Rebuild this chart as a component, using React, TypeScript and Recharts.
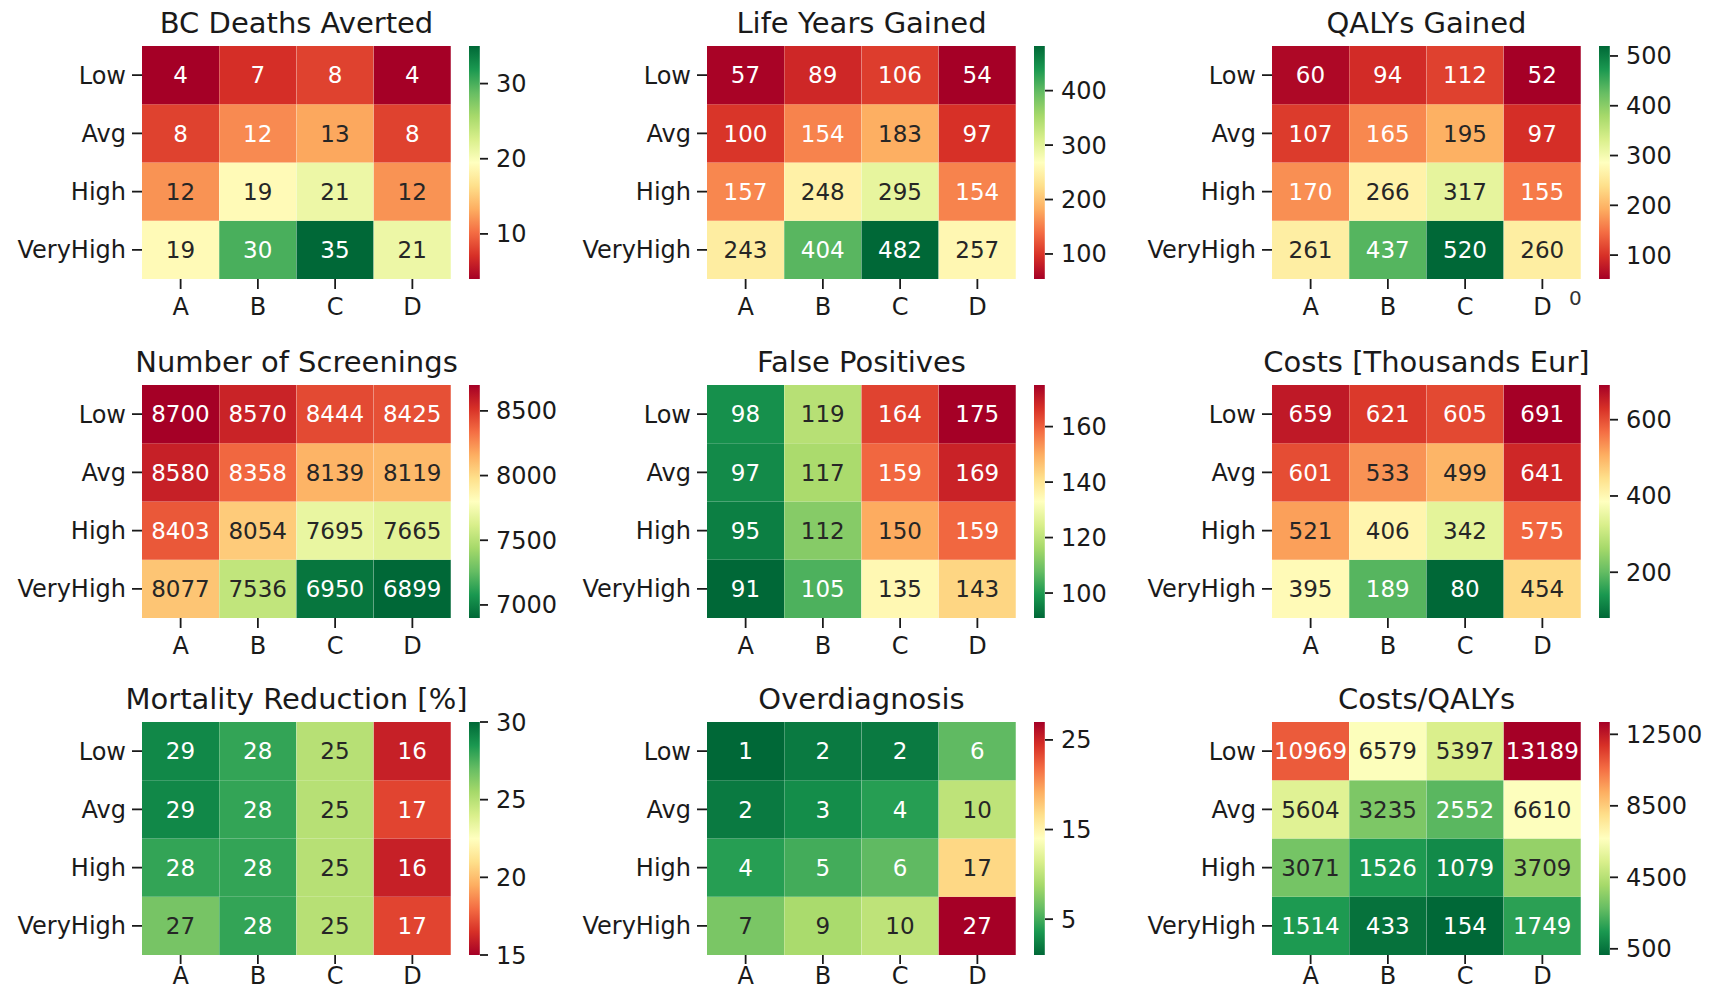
import React from "react";
import { BarChart, Bar, XAxis, YAxis, Cell, LabelList } from "recharts";

const ROWS = ["Low", "Avg", "High", "VeryHigh"];
const COLS = ["A", "B", "C", "D"];

// one matrix per panel, rows Low..VeryHigh, columns A..D (shown rounded, like fmt=".0f")
const bcDeathsAverted = [
  [4, 7, 8, 4],
  [8, 11.6, 13, 8],
  [12, 19, 21, 12],
  [19, 30, 35, 21],
];
const bcDeathsTicks = [10, 20, 30];

const lifeYearsGained = [
  [57, 89, 106, 54],
  [100, 154, 183, 97],
  [157, 248, 295, 154],
  [243, 404, 482, 257],
];
const lifeYearsTicks = [100, 200, 300, 400];

const qalysGained = [
  [60, 94, 112, 52],
  [107, 165, 195, 97],
  [170, 266, 317, 155],
  [261, 437, 520, 260],
];
const qalysTicks = [100, 200, 300, 400, 500];

const screenings = [
  [8700, 8570, 8444, 8425],
  [8580, 8358, 8139, 8119],
  [8403, 8054, 7695, 7665],
  [8077, 7536, 6950, 6899],
];
const screeningsTicks = [7000, 7500, 8000, 8500];

const falsePositives = [
  [98, 119, 164, 175],
  [97, 117, 159, 169],
  [95, 112, 150, 159],
  [91, 105, 135, 143],
];
const falsePositivesTicks = [100, 120, 140, 160];

const costs = [
  [659, 621, 605, 691],
  [601, 533, 499, 641],
  [521, 406, 342, 575],
  [395, 189, 80, 454],
];
const costsTicks = [200, 400, 600];

const mortalityReduction = [
  [29, 28, 25, 16],
  [29, 28, 25, 17],
  [28, 28, 25, 16],
  [26.6, 28, 25, 17],
];
const mortalityTicks = [15, 20, 25, 30];
const mortalityRange = [15, 30];

const overdiagnosis = [
  [1, 2, 2, 6],
  [2, 3, 4, 10],
  [4, 5, 6, 17],
  [7, 9, 10, 27],
];
const overdiagnosisTicks = [5, 15, 25];

const costsPerQaly = [
  [10969, 6579, 5397, 13189],
  [5604, 3235, 2552, 6610],
  [3071, 1526, 1079, 3709],
  [1514, 433, 154, 1749],
];
const costsPerQalyTicks = [500, 4500, 8500, 12500];

const PANELS = [
  { title: "BC Deaths Averted", values: bcDeathsAverted, ticks: bcDeathsTicks, reversed: false },
  { title: "Life Years Gained", values: lifeYearsGained, ticks: lifeYearsTicks, reversed: false },
  { title: "QALYs Gained", values: qalysGained, ticks: qalysTicks, reversed: false },
  { title: "Number of Screenings", values: screenings, ticks: screeningsTicks, reversed: true },
  { title: "False Positives", values: falsePositives, ticks: falsePositivesTicks, reversed: true },
  { title: "Costs [Thousands Eur]", values: costs, ticks: costsTicks, reversed: true },
  { title: "Mortality Reduction [%]", values: mortalityReduction, ticks: mortalityTicks, reversed: false, range: mortalityRange },
  { title: "Overdiagnosis", values: overdiagnosis, ticks: overdiagnosisTicks, reversed: true },
  { title: "Costs/QALYs", values: costsPerQaly, ticks: costsPerQalyTicks, reversed: true },
];

// matplotlib RdYlGn anchor colours
const RDYLGN = [
  "#a50026", "#d73027", "#f46d43", "#fdae61", "#fee08b", "#ffffbf",
  "#d9ef8b", "#a6d96a", "#66bd63", "#1a9850", "#006837",
];

const FONT = "DejaVu Sans";
const INK = "#1a1a1a";

// layout (px)
const PLOT_X = [142, 707, 1272];
const PLOT_Y = [46, 385, 722];
const PLOT_W = 309;
const PLOT_H = 233;
const Y_AXIS_W = 142;
const CB_GAP = 17;
const CB_W = 12;
const ROW_TICKS = [0.5, 1.5, 2.5, 3.5];

function hexToRgb(h: string) {
  return [1, 3, 5].map((i) => parseInt(h.slice(i, i + 2), 16));
}

function cmap(t: number) {
  const c = Math.max(0, Math.min(1, t)) * 10;
  const i = Math.min(9, Math.floor(c));
  const f = c - i;
  const a = hexToRgb(RDYLGN[i]);
  const b = hexToRgb(RDYLGN[i + 1]);
  return a.map((v, k) => Math.round(v + (b[k] - v) * f));
}

function rgbStr(c: number[]) {
  return `rgb(${c[0]},${c[1]},${c[2]})`;
}

// seaborn's rule for annotation colour
function textColor(c: number[]) {
  const lin = c.map((v) => {
    const s = v / 255;
    return s <= 0.03928 ? s / 12.92 : Math.pow((s + 0.055) / 1.055, 2.4);
  });
  const lum = 0.2126 * lin[0] + 0.7152 * lin[1] + 0.0722 * lin[2];
  return lum > 0.408 ? "#262626" : "#ffffff";
}

function Heatmap({ panel, idx }: { panel: any; idx: number }) {
  const flat = panel.values.flat();
  const vmin = panel.range ? panel.range[0] : Math.min(...flat);
  const vmax = panel.range ? panel.range[1] : Math.max(...flat);
  const colorOf = (v: number) => {
    const t = (v - vmin) / (vmax - vmin);
    return cmap(panel.reversed ? 1 - t : t);
  };

  const rows = COLS.map((c, j) => {
    const r: any = { col: c };
    ROWS.forEach((name, i) => {
      r[name] = 1;
      r[name + "_v"] = panel.values[i][j];
    });
    return r;
  });

  const gridRow = Math.floor(idx / 3);
  const px = PLOT_X[idx % 3];
  const py = PLOT_Y[gridRow];
  const lastRow = gridRow === 2;
  const xAxisH = lastRow ? 36 : 42;
  const xTickSize = lastRow ? 9 : 10;
  const xTickMargin = lastRow ? 3 : 9;
  const cbX = px + PLOT_W + CB_GAP;
  const gid = `cb-${idx}`;

  const renderLabel = (props: any) => {
    const vb = props.viewBox && props.viewBox.width != null ? props.viewBox : props;
    const { x, y, width, height } = vb;
    const v = props.value;
    return (
      <text
        x={x + width / 2}
        y={y + height / 2}
        dy="0.36em"
        textAnchor="middle"
        fontSize={23}
        fontFamily={FONT}
        fill={textColor(colorOf(v))}
      >
        {Math.round(v)}
      </text>
    );
  };

  const axisTick = { fontSize: 24, fill: INK, fontFamily: FONT };
  const tickLine = { stroke: INK, strokeWidth: 1.8 };

  return (
    <>
      <div
        style={{
          position: "absolute",
          left: px + PLOT_W / 2 - 250,
          top: py - 37,
          width: 500,
          textAlign: "center",
          fontFamily: FONT,
          fontSize: 29,
          lineHeight: "29px",
          color: INK,
        }}
      >
        {panel.title}
      </div>
      <div style={{ position: "absolute", left: px - Y_AXIS_W, top: py }}>
        <BarChart
          width={Y_AXIS_W + PLOT_W}
          height={PLOT_H + xAxisH}
          data={rows}
          margin={{ top: 0, right: 0, bottom: 0, left: 0 }}
          barCategoryGap={0}
          barGap={0}
        >
          <XAxis
            dataKey="col"
            height={xAxisH}
            axisLine={false}
            tickSize={xTickSize}
            tickMargin={xTickMargin}
            tickLine={tickLine}
            tick={axisTick}
            interval={0}
          />
          <YAxis
            type="number"
            domain={[0, 4]}
            ticks={ROW_TICKS}
            allowDataOverflow
            tickFormatter={(v: number) => ROWS[3 - Math.floor(v)]}
            width={Y_AXIS_W}
            axisLine={false}
            tickSize={10}
            tickMargin={6}
            tickLine={tickLine}
            tick={axisTick}
            interval={0}
          />
          {[...ROWS].reverse().map((name) => (
            <Bar key={name} dataKey={name} stackId="s" isAnimationActive={false}>
              {rows.map((r, j) => (
                <Cell key={j} fill={rgbStr(colorOf(r[name + "_v"]))} />
              ))}
              <LabelList dataKey={name + "_v"} content={renderLabel} />
            </Bar>
          ))}
        </BarChart>
      </div>
      <div style={{ position: "absolute", left: cbX, top: py - 15 }}>
        <BarChart
          width={CB_W + 120}
          height={PLOT_H + 30}
          data={[{ k: "cb", range: [vmin, vmax] }]}
          margin={{ top: 15, right: 0, bottom: 15, left: 0 }}
          barCategoryGap={0}
        >
          <defs>
            <linearGradient id={gid} x1="0" y1="1" x2="0" y2="0">
              {RDYLGN.map((_, i) => (
                <stop key={i} offset={i / 10} stopColor={rgbStr(cmap(panel.reversed ? 1 - i / 10 : i / 10))} />
              ))}
            </linearGradient>
          </defs>
          <XAxis dataKey="k" hide />
          <YAxis
            orientation="right"
            type="number"
            domain={[vmin, vmax]}
            allowDataOverflow
            ticks={panel.ticks}
            width={120}
            axisLine={false}
            tickSize={8}
            tickMargin={8}
            tickLine={tickLine}
            tick={axisTick}
            interval={0}
          />
          <Bar dataKey="range" barSize={CB_W} fill={`url(#${gid})`} isAnimationActive={false} />
        </BarChart>
      </div>
    </>
  );
}

export default function App() {
  return (
    <div
      style={{
        position: "absolute",
        left: 0,
        top: 0,
        width: 1731,
        height: 994,
        background: "#ffffff",
        fontFamily: FONT,
        overflow: "hidden",
      }}
    >
      {PANELS.map((p, i) => (
        <Heatmap key={p.title} panel={p} idx={i} />
      ))}
      <div
        style={{
          position: "absolute",
          left: 1569,
          top: 288,
          fontSize: 20,
          lineHeight: "20px",
          fontFamily: FONT,
          color: "#333",
        }}
      >
        0
      </div>
    </div>
  );
}
